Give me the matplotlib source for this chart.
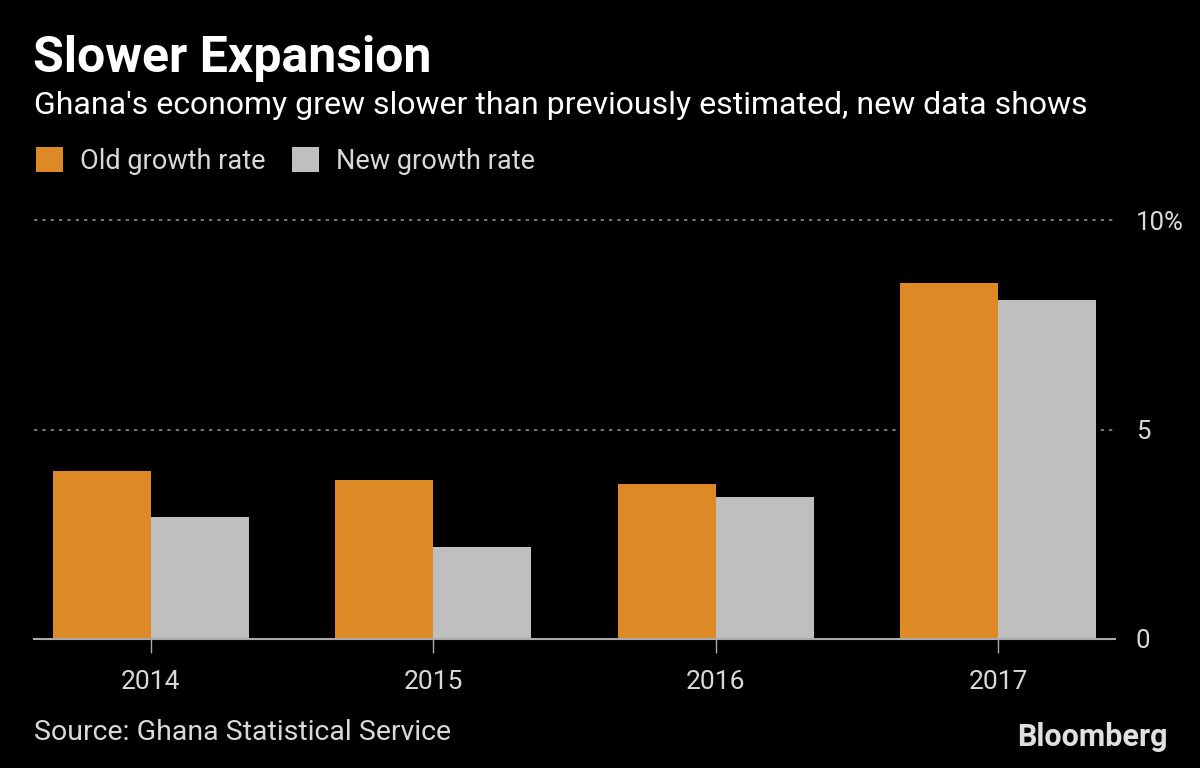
import matplotlib
matplotlib.use("Agg")
import matplotlib.pyplot as plt
import numpy as np

years = ["2014", "2015", "2016", "2017"]
old_rate = [4.0, 3.8, 3.7, 8.5]
new_rate = [2.9, 2.2, 3.4, 8.1]
series_names = ["Old growth rate", "New growth rate"]
yticks = [0, 5, 10]
ytick_labels = ["0", "5", "10%"]

ORANGE = "#DD8A26"
GRAY = "#BFBFBF"
BG = "#000000"
TXT = "#D9D9D9"

plt.rcParams['font.family'] = ['Roboto', 'DejaVu Sans']

fig = plt.figure(figsize=(12, 7.68), dpi=100, facecolor=BG)
ax = fig.add_axes([34/1200, 1-639/768, (1115-34)/1200, (639-220)/768])
ax.set_facecolor(BG)

x = np.arange(len(years))
w = 0.347
b1 = ax.bar(x - w/2, old_rate, width=w, color=ORANGE, label=series_names[0], zorder=3)
b2 = ax.bar(x + w/2, new_rate, width=w, color=GRAY, label=series_names[1], zorder=3)

ax.set_xlim(-0.414, 3.414)
ax.set_ylim(0, 10)
ax.set_xticks(x)
ax.set_xticklabels(years)
ax.set_yticks(yticks)
ax.set_yticklabels(ytick_labels)
ax.yaxis.tick_right()
ax.tick_params(axis='y', length=0, pad=15, labelsize=18.5, labelcolor=TXT)
ax.tick_params(axis='x', length=10, width=1, color="#AAAAAA", pad=12, labelsize=19, labelcolor=TXT)
for s in ["top", "right", "left"]:
    ax.spines[s].set_visible(False)
ax.spines["bottom"].set_color("#AAAAAA")
ax.spines["bottom"].set_linewidth(1.5)
ax.spines["bottom"].set_zorder(4)
for yv in yticks[1:]:
    ax.axhline(yv, color="#8C8C8C", linestyle=(0, (2, 3)), linewidth=1.2, zorder=1, clip_on=False)

fig.text(33/1200, 1-58/768, "Slower Expansion", color="white", fontsize=36, fontweight="bold",
         va="center", ha="left")
fig.text(34/1200, 1-106/768, "Ghana's economy grew slower than previously estimated, new data shows",
         color="white", fontsize=23, va="center", ha="left")

leg = fig.legend(handles=[b1, b2], loc="center left", bbox_to_anchor=(12/1200, 1-161/768),
                 ncol=2, frameon=False, fontsize=19.5, handlelength=1.0, handleheight=1.0,
                 handletextpad=0.6, columnspacing=1.0, labelcolor=TXT)

fig.text(34/1200, 1-732/768, "Source: Ghana Statistical Service", color=TXT, fontsize=20.5,
         va="center", ha="left")
fig.text(1168/1200, 1-737/768, "Bloomberg", color="#E0E0E0", fontsize=22, fontweight="bold",
         va="center", ha="right")

fig.savefig("out.png", dpi=100, facecolor=BG)
